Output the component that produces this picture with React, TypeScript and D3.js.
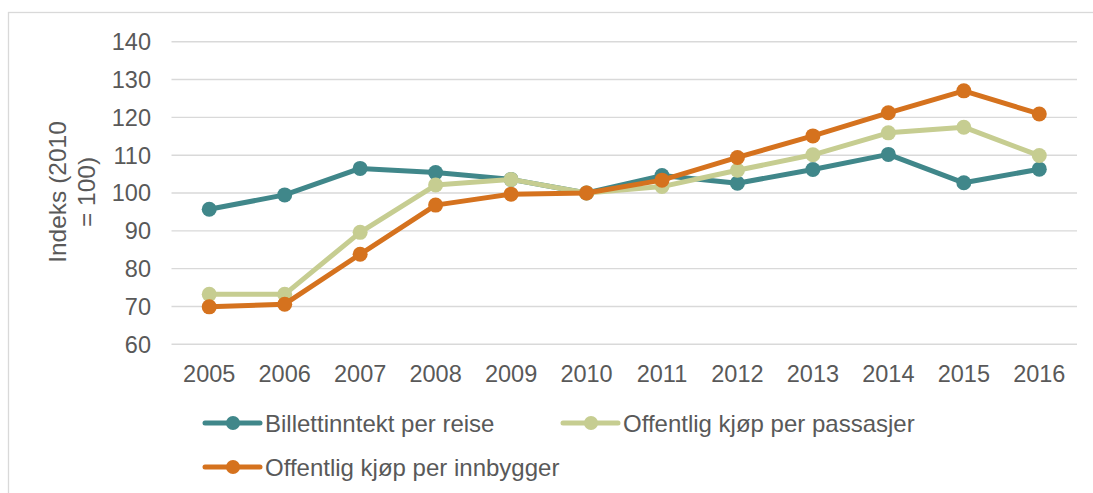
import React from "react";
import * as d3 from "d3";

const years = ["2005","2006","2007","2008","2009","2010","2011","2012","2013","2014","2015","2016"];
const billettinntekt = [95.7, 99.5, 106.5, 105.4, 103.6, 100, 104.6, 102.6, 106.2, 110.2, 102.7, 106.3];
const kjopPassasjer = [73.2, 73.2, 89.6, 102.1, 103.6, 100, 101.7, 106.0, 110.1, 115.9, 117.4, 109.9];
const kjopInnbygger = [69.9, 70.6, 83.8, 96.8, 99.7, 100, 103.4, 109.4, 115.1, 121.2, 127.0, 120.9];
const yTicks = [60, 70, 80, 90, 100, 110, 120, 130, 140];
const seriesNames = ["Billettinntekt per reise", "Offentlig kjøp per passasjer", "Offentlig kjøp per innbygger"];

const colors = ["#40878a", "#c6cd91", "#d5721e"];
const FONT = "'Liberation Sans', Arial, sans-serif";
const TXT = "#595959";

export default function App() {
  const W = 1093, H = 493;
  const x = d3.scaleBand<string>().domain(years).range([171.5, 1077]).paddingInner(0).paddingOuter(0);
  const xc = (d: string) => (x(d) as number) + x.bandwidth() / 2;
  const y = d3.scaleLinear().domain([60, 140]).range([344.3, 41.7]);
  const series = [billettinntekt, kjopPassasjer, kjopInnbygger];
  const line = d3.line<number>().x((_, i) => xc(years[i])).y((v) => y(v));

  const legend = [
    { x: 205, y: 423 },
    { x: 563, y: 423 },
    { x: 205, y: 467 },
  ];

  return (
    <svg width={W} height={H} style={{ position: "absolute", left: 0, top: 0, background: "#fff" }} fontFamily={FONT}>
      <rect x={8.5} y={12.5} width={1200} height={600} fill="#fff" stroke="#d9d9d9" strokeWidth={1.3} />
      {yTicks.map((t) => (
        <g key={t}>
          <line x1={171.5} x2={1077} y1={y(t)} y2={y(t)} stroke="#d9d9d9" strokeWidth={1.4} />
          <text x={151} y={y(t) + 8.4} textAnchor="end" fontSize={23.5} fill={TXT}>{t}</text>
        </g>
      ))}
      {years.map((yr) => (
        <text key={yr} x={xc(yr)} y={381.7} textAnchor="middle" fontSize={23.5} fill={TXT}>{yr}</text>
      ))}
      <g transform="translate(0,192) rotate(-90)">
        <text x={0} y={66} textAnchor="middle" fontSize={24.5} fill={TXT}>Indeks (2010</text>
        <text x={0} y={95} textAnchor="middle" fontSize={24.5} fill={TXT}>= 100)</text>
      </g>
      {series.map((s, si) => (
        <g key={si}>
          <path d={line(s) || ""} fill="none" stroke={colors[si]} strokeWidth={5} strokeLinejoin="round" />
          {s.map((v, i) => (
            <circle key={i} cx={xc(years[i])} cy={y(v)} r={7.5} fill={colors[si]} />
          ))}
        </g>
      ))}
      {legend.map((l, i) => (
        <g key={i}>
          <line x1={l.x} x2={l.x + 55} y1={l.y} y2={l.y} stroke={colors[i]} strokeWidth={5} strokeLinecap="round" />
          <circle cx={l.x + 28} cy={l.y} r={7} fill={colors[i]} />
          <text x={l.x + 60} y={l.y + 8.5} fontSize={24} fill={TXT}>{seriesNames[i]}</text>
        </g>
      ))}
    </svg>
  );
}
